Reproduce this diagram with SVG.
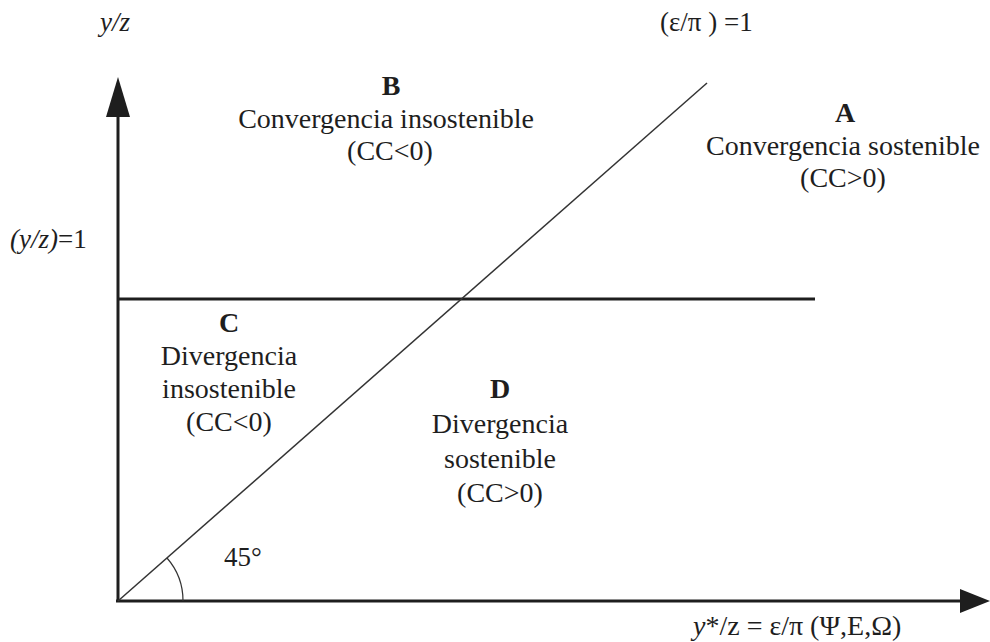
<svg xmlns="http://www.w3.org/2000/svg" width="990" height="642" viewBox="0 0 990 642">
<style>
text{font-family:"Liberation Serif","Times New Roman",serif;fill:#1e1e1e}
.lbl{font-size:28px;text-anchor:middle}
.hd{font-weight:bold}
.ax{stroke:#1e1e1e;stroke-width:3;fill:none}
.thin{stroke:#333;stroke-width:1.5;fill:none}
.it{font-style:italic}
</style>
<rect width="990" height="642" fill="#fff"/>
<g id="connectors">
<line class="ax" x1="118" y1="602" x2="118" y2="112"/>
<polygon points="118,77 106,117 130,117" fill="#1e1e1e"/>
<line class="ax" x1="116" y1="601" x2="962" y2="601"/>
<polygon points="990,601 960,589 960,613" fill="#1e1e1e"/>
<line class="ax" x1="118" y1="299" x2="815" y2="299"/>
<line class="thin" x1="118" y1="601" x2="707" y2="83"/>
<path d="M183,601 A65,65 0 0 0 167,558" stroke="#333" stroke-width="1.2" fill="none"/>
</g>
<g id="axis-labels">
<text class="it" x="100" y="31" font-size="27">y/z</text>
<text x="660" y="31" font-size="27">(ε/π ) =1</text>
<text x="10" y="248" font-size="27"><tspan class="it">(y/z)</tspan>=1</text>
<text x="224" y="566" font-size="27">45°</text>
<text x="693" y="635" font-size="28"><tspan class="it">y</tspan>*/z = ε/π (Ψ,Ε,Ω)</text>
</g>
<g id="nodeA">
<text class="lbl hd" x="845" y="122">A</text>
<text class="lbl" x="843" y="155">Convergencia sostenible</text>
<text class="lbl" x="843" y="187">(CC&gt;0)</text>
</g>
<g id="nodeB">
<text class="lbl hd" x="391" y="95">B</text>
<text class="lbl" x="386" y="128">Convergencia insostenible</text>
<text class="lbl" x="390" y="160">(CC&lt;0)</text>
</g>
<g id="nodeC">
<text class="lbl hd" x="229" y="332">C</text>
<text class="lbl" x="229" y="365">Divergencia</text>
<text class="lbl" x="229" y="398">insostenible</text>
<text class="lbl" x="229" y="431">(CC&lt;0)</text>
</g>
<g id="nodeD">
<text class="lbl hd" x="500" y="398">D</text>
<text class="lbl" x="500" y="433">Divergencia</text>
<text class="lbl" x="500" y="468">sostenible</text>
<text class="lbl" x="500" y="502">(CC&gt;0)</text>
</g>
</svg>
